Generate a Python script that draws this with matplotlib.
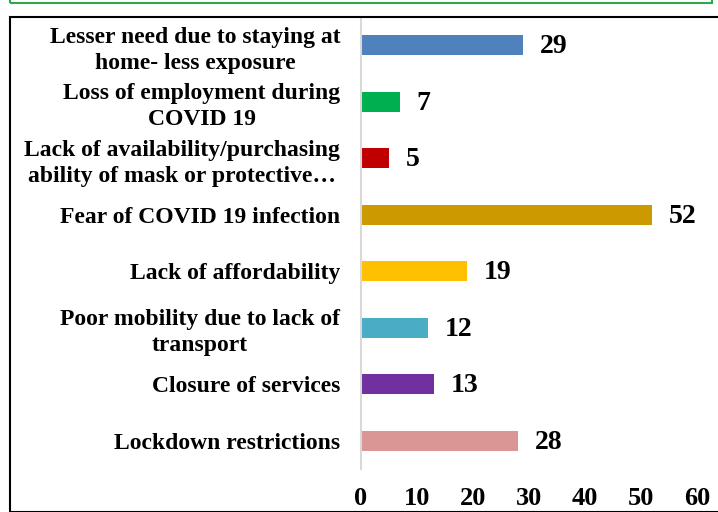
import matplotlib
matplotlib.use("Agg")
import matplotlib.pyplot as plt
from matplotlib.patches import Rectangle

categories = [
    "Lesser need due to staying at\nhome- less exposure",
    "Loss of employment during\nCOVID 19",
    "Lack of availability/purchasing\nability of mask or protective…",
    "Fear of COVID 19 infection",
    "Lack of affordability",
    "Poor mobility due to lack of\ntransport",
    "Closure of services",
    "Lockdown restrictions",
]
values = [29, 7, 5, 52, 19, 12, 13, 28]
colors = ["#4F81BD", "#00B050", "#C00000", "#CC9900", "#FFC000", "#4BACC6", "#7030A0", "#DA9694"]
xticks = [0, 10, 20, 30, 40, 50, 60]

plt.rcParams['font.family'] = ['Liberation Serif', 'DejaVu Serif']
plt.rcParams['font.weight'] = 'bold'

fig = plt.figure(figsize=(7.18, 5.12), dpi=100)
W, H = 718, 512
ax = fig.add_axes([361 / W, 1 - 469 / H, (697 - 361) / W, (469 - 17) / H])

y = list(range(len(categories)))[::-1]
ax.barh(y, values, height=0.36, color=colors)
for yi, v in zip(y, values):
    ax.annotate(str(v), (v, yi), xytext=(12, -1), textcoords='offset points',
                va='center', ha='left', fontsize=20, fontweight='bold')

ax.set_xlim(0, 60)
ax.set_ylim(-0.5, len(categories) - 0.5)
ax.set_xticks(xticks)
ax.set_xticklabels([str(t) for t in xticks], fontsize=19, fontweight='bold')
ax.set_yticks(y)
ax.set_yticklabels(categories, fontsize=17, fontweight='bold', multialignment='center',
                   linespacing=1.3)
ax.tick_params(axis='both', length=0)
ax.tick_params(axis='x', pad=13)
ax.tick_params(axis='y', pad=15)
for s in ['top', 'right', 'bottom']:
    ax.spines[s].set_visible(False)
ax.spines['left'].set_color('#D9D9D9')
ax.spines['left'].set_linewidth(1.5)

# decorative frames
fig.patches.append(Rectangle((10 / W, 1 - 512 / H), 800 / W, (512 - 17) / H,
                             transform=fig.transFigure, fill=False,
                             edgecolor='black', linewidth=1.5))
fig.patches.append(Rectangle((10 / W, 1 - 3 / H), 702 / W, 10 / H,
                             transform=fig.transFigure, fill=False,
                             edgecolor='#2EA84F', linewidth=1.5))

fig.savefig("out.png", dpi=100)
